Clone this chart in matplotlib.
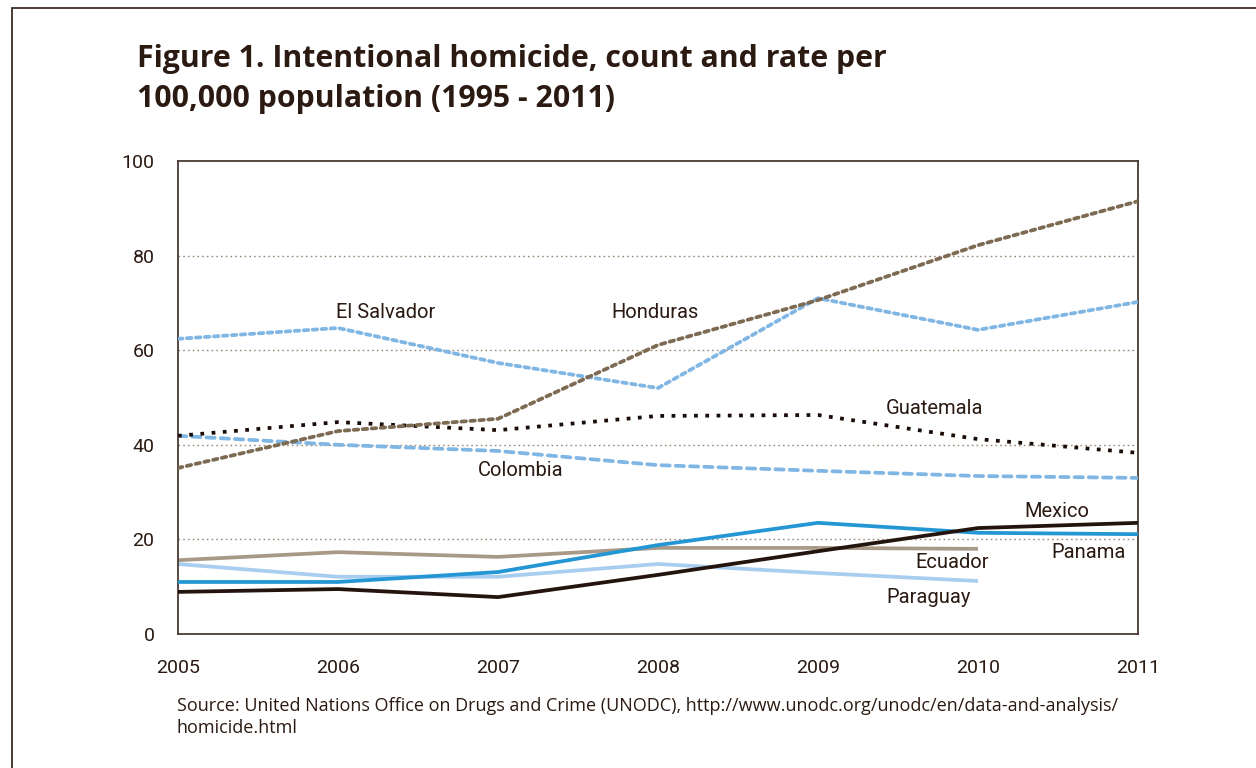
import matplotlib.pyplot as plt
from matplotlib.patches import Rectangle

years = [2005, 2006, 2007, 2008, 2009, 2010, 2011]

el_salvador = [62.4, 64.7, 57.3, 52.0, 71.0, 64.3, 70.2]
honduras = [35.1, 42.9, 45.5, 61.1, 70.6, 82.2, 91.5]
guatemala = [41.9, 44.8, 43.1, 46.1, 46.3, 41.2, 38.3]
colombia = [41.9, 40.0, 38.7, 35.7, 34.5, 33.4, 33.0]
mexico = [8.9, 9.5, 7.8, 12.5, 17.5, 22.4, 23.5]
panama = [11.0, 11.0, 13.1, 18.8, 23.5, 21.4, 21.1]
# Ecuador and Paraguay stop at 2010
ecuador = [15.6, 17.3, 16.3, 18.2, 18.2, 18.0]
paraguay = [14.8, 12.1, 12.1, 14.8, 12.9, 11.2]

TXT = "#2b1a12"
SPINE = "#4a3a33"

plt.rcParams['font.family'] = ['Roboto', 'DejaVu Sans']

fig = plt.figure(figsize=(12.56, 7.68), dpi=100)
fig.patches.append(Rectangle((12 / 1256, -0.1), 1.2, 1.1 - 8 / 768,
                             transform=fig.transFigure, fill=False,
                             edgecolor=TXT, linewidth=1.2))

ax = fig.add_axes([178 / 1256, 1 - 634 / 768, 960 / 1256, 473 / 768])

# gridlines
for g in [20, 40, 60, 80]:
    ax.axhline(g, color="#9b8a7a", linestyle=(0, (1.2, 2.2)), linewidth=1.0, zorder=1)

lw = 2.7
ax.plot(years[:len(ecuador)], ecuador, color="#a89a87", linewidth=lw, solid_capstyle='butt', zorder=2)
ax.plot(years[:len(paraguay)], paraguay, color="#a9cdee", linewidth=lw, solid_capstyle='butt', zorder=2)
ax.plot(years, panama, color="#2596d4", linewidth=lw, solid_capstyle='butt', zorder=3)
ax.plot(years, mexico, color="#24140e", linewidth=lw, solid_capstyle='butt', zorder=4)
ax.plot(years, colombia, color="#80b6e3", linewidth=lw, linestyle=(0, (2.2, 1.6)),
        dash_capstyle='round', zorder=3)
ax.plot(years, guatemala, color="#1a0d08", linewidth=lw, linestyle=(0, (1.0, 2.0)),
        dash_capstyle='butt', zorder=3)
ax.plot(years, el_salvador, color="#80b6e3", linewidth=lw, linestyle=(0, (1.2, 1.2)),
        dash_capstyle='round', zorder=3)
ax.plot(years, honduras, color="#7d6a52", linewidth=lw, linestyle=(0, (1.2, 1.2)),
        dash_capstyle='round', zorder=4)

ax.set_xlim(2005, 2011)
ax.set_ylim(0, 100)
ax.set_xticks(years)
ax.set_yticks([0, 20, 40, 60, 80, 100])
ax.tick_params(length=0, labelsize=14, colors=TXT)
ax.tick_params(axis='x', pad=18)
ax.tick_params(axis='y', pad=17)
for lab in ax.get_yticklabels():
    lab.set_verticalalignment('center_baseline')
for s in ax.spines.values():
    s.set_color(SPINE)
    s.set_linewidth(1.3)

labels = [
    ("El Salvador", 2006.3, 67.9),
    ("Honduras", 2007.98, 67.9),
    ("Guatemala", 2009.73, 47.6),
    ("Colombia", 2007.14, 34.5),
    ("Mexico", 2010.49, 26.0),
    ("Panama", 2010.69, 17.3),
    ("Ecuador", 2009.84, 15.2),
    ("Paraguay", 2009.69, 7.8),
]
for name, lx, ly in labels:
    ax.text(lx, ly, name, ha='center', va='center', fontsize=14.5, color=TXT, zorder=6)

title_font = ['Open Sans', 'DejaVu Sans']
fig.text(137 / 1256, 1 - 59 / 768, "Figure 1. Intentional homicide, count and rate per",
         fontsize=21.8, fontweight='bold', color=TXT, va='center', ha='left',
         family=title_font)
fig.text(137 / 1256, 1 - 99 / 768, "100,000 population (1995 - 2011)",
         fontsize=21.8, fontweight='bold', color=TXT, va='center', ha='left',
         family=title_font)

fig.text(177 / 1256, 1 - 706 / 768,
         "Source: United Nations Office on Drugs and Crime (UNODC), "
         "http://www.unodc.org/unodc/en/data-and-analysis/",
         fontsize=13, color=TXT, va='center', ha='left',
         family=['Open Sans', 'DejaVu Sans'])
fig.text(177 / 1256, 1 - 728 / 768, "homicide.html",
         fontsize=13, color=TXT, va='center', ha='left',
         family=['Open Sans', 'DejaVu Sans'])

fig.savefig("out.png", dpi=100)
